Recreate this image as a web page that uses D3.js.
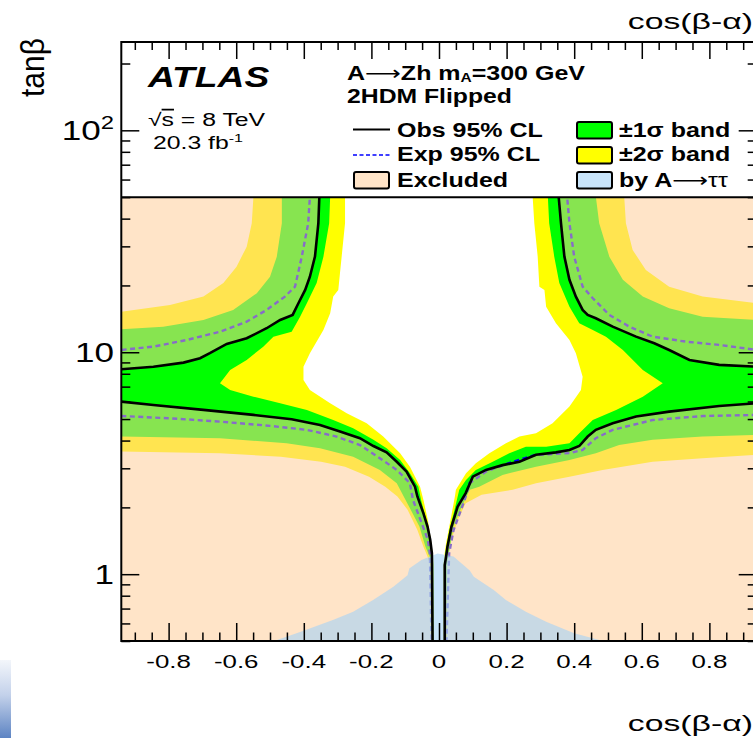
<!DOCTYPE html>
<html><head><meta charset="utf-8">
<script src="https://cdn.jsdelivr.net/npm/d3@7"></script>
<style>
body{margin:0;background:#fff;}
text{font-family:"Liberation Sans",Arial,Helvetica,sans-serif;fill:#000;}
</style></head><body>
<svg id="chart" width="753" height="743"></svg>
<script>
// ---------------- data (cos(beta-alpha), tan(beta)) ----------------
const xDomain = [-0.94, 0.94];
const yDomain = [0.5, 250];
const xMajor = [-0.8,-0.6,-0.4,-0.2,0,0.2,0.4,0.6,0.8];
const xMajorLabels = ["-0.8","-0.6","-0.4","-0.2","0","0.2","0.4","0.6","0.8"];
const xMinor = [-0.9,-0.85,-0.75,-0.7,-0.65,-0.55,-0.5,-0.45,-0.35,-0.3,-0.25,-0.15,-0.1,-0.05,0.05,0.1,0.15,0.25,0.3,0.35,0.45,0.5,0.55,0.65,0.7,0.75,0.85,0.9];
const yMajor = [1,10,100];
const yMajorLabels = [["1",""],["10",""],["10","2"]];
const yMinor = [0.5,0.6,0.7,0.8,0.9,2,3,4,5,6,7,8,9,20,30,40,50,60,70,80,90,200];
const legendTop = 50;

// observed 95% CL
const obsLeftUpper = [[-0.354,260],[-0.354,50.3],[-0.357,38.1],[-0.367,26.97],[-0.382,21.9],[-0.396,19.1],[-0.416,16.63],[-0.433,14.73],[-0.470,13.98],[-0.510,12.83],[-0.569,11.56],[-0.628,10.90],[-0.678,9.90],[-0.707,9.40],[-0.756,8.98],[-0.845,8.61],[-0.94,8.38]];
const obsLeftLower = [[-0.94,5.99],[-0.845,5.79],[-0.697,5.50],[-0.549,5.22],[-0.436,4.99],[-0.352,4.70],[-0.293,4.39],[-0.234,4.10],[-0.194,3.78],[-0.155,3.54],[-0.125,3.21],[-0.096,2.90],[-0.071,2.48],[-0.064,2.24],[-0.046,1.88],[-0.034,1.64],[-0.026,1.43],[-0.021,1.24],[-0.019,0.49]];
const obsRightUpper = [[0.354,260],[0.354,50.3],[0.361,38.1],[0.371,26.97],[0.386,21.2],[0.405,17.81],[0.425,15.51],[0.440,14.73],[0.464,14.23],[0.514,13.04],[0.583,11.76],[0.637,10.98],[0.681,10.24],[0.741,9.23],[0.829,8.77],[0.94,8.61]];
const obsRightLower = [[0.94,5.89],[0.829,5.73],[0.681,5.40],[0.583,5.13],[0.514,4.79],[0.464,4.47],[0.440,4.17],[0.415,3.78],[0.386,3.63],[0.346,3.54],[0.287,3.45],[0.238,3.21],[0.188,3.10],[0.139,2.95],[0.100,2.75],[0.079,2.32],[0.055,2.01],[0.037,1.64],[0.025,1.33],[0.021,1.20],[0.017,1.10],[0.017,0.49]];

// expected 95% CL
const expLeftUpper = [[-0.382,260],[-0.382,50.3],[-0.387,38.1],[-0.406,26.97],[-0.426,19.75],[-0.456,17.81],[-0.510,15.51],[-0.569,13.74],[-0.648,12.38],[-0.746,11.36],[-0.845,10.60],[-0.94,10.24]];
const expLeftLower = [[-0.94,5.16],[-0.796,5.04],[-0.648,4.87],[-0.500,4.66],[-0.391,4.47],[-0.303,4.17],[-0.234,3.82],[-0.175,3.33],[-0.125,2.95],[-0.086,2.57],[-0.077,2.16],[-0.033,1.43],[-0.027,1.24],[-0.022,0.49]];
const expRightUpper = [[0.379,260],[0.379,50.3],[0.386,38.1],[0.400,26.97],[0.425,19.75],[0.455,17.51],[0.504,14.73],[0.563,13.04],[0.632,11.76],[0.731,11.16],[0.829,10.79],[0.94,10.24]];
const expRightLower = [[0.94,5.22],[0.780,5.16],[0.632,4.95],[0.514,4.47],[0.464,4.10],[0.425,3.63],[0.386,3.51],[0.287,3.45],[0.218,3.21],[0.139,2.90],[0.090,2.57],[0.076,2.16],[0.043,1.58],[0.030,1.24],[0.022,0.49]];

// +-1 sigma band edges
const s1LeftOuterUpper = [[-0.465,260],[-0.465,50.3],[-0.465,38.1],[-0.480,26.97],[-0.500,21.9],[-0.539,18.45],[-0.609,15.51],[-0.697,13.98],[-0.816,13.04],[-0.94,12.69]];
const s1LeftOuterLower = [[-0.94,4.17],[-0.648,4.10],[-0.451,3.89],[-0.352,3.69],[-0.254,3.38],[-0.175,2.95],[-0.125,2.57],[-0.088,2.01],[-0.058,1.64],[-0.040,1.33],[-0.028,1.20],[-0.023,1.10],[-0.022,0.49]];
const s1LeftInner = [[-0.322,260],[-0.322,50.3],[-0.325,38.1],[-0.342,26.97],[-0.362,20.5],[-0.391,16.63],[-0.411,14.47],[-0.436,12.38],[-0.490,11.76],[-0.520,10.60],[-0.569,9.23],[-0.618,8.32],[-0.648,7.25],[-0.618,6.76],[-0.549,6.31],[-0.470,5.89],[-0.391,5.50],[-0.313,4.95],[-0.254,4.55],[-0.194,4.03],[-0.155,3.69],[-0.115,3.27],[-0.086,2.85],[-0.061,2.48],[-0.053,2.16],[-0.030,1.58],[-0.019,1.22],[-0.017,1.10],[-0.0165,0.49]];
const s1RightOuterUpper = [[0.464,260],[0.464,50.3],[0.474,38.1],[0.504,26.97],[0.544,21.2],[0.603,17.81],[0.681,15.79],[0.780,14.47],[0.94,13.98]];
const s1RightOuterLower = [[0.94,4.24],[0.780,4.17],[0.632,4.03],[0.533,3.82],[0.464,3.51],[0.386,3.27],[0.287,3.05],[0.188,2.80],[0.119,2.48],[0.091,2.40],[0.067,2.01],[0.043,1.64],[0.029,1.24],[0.023,1.10],[0.021,0.49]];
const s1RightInner = [[0.322,260],[0.322,50.3],[0.326,38.1],[0.341,26.97],[0.356,20.5],[0.386,16.05],[0.415,13.51],[0.455,12.60],[0.494,11.76],[0.544,10.24],[0.603,8.32],[0.662,7.25],[0.603,6.31],[0.524,5.50],[0.455,4.95],[0.415,4.32],[0.386,3.89],[0.317,3.75],[0.257,3.75],[0.208,3.51],[0.159,3.21],[0.109,2.95],[0.080,2.66],[0.060,2.40],[0.046,1.95],[0.031,1.58],[0.018,1.22],[0.0155,1.10],[0.0155,0.49]];

// +-2 sigma band edges
const s2LeftOuterUpper = [[-0.549,260],[-0.549,50.3],[-0.554,38.1],[-0.569,29.9],[-0.599,24.3],[-0.638,20.5],[-0.697,17.81],[-0.796,16.34],[-0.94,15.24]];
const s2LeftOuterLower = [[-0.94,3.57],[-0.648,3.51],[-0.468,3.38],[-0.349,3.21],[-0.278,3.05],[-0.207,2.75],[-0.159,2.48],[-0.123,2.24],[-0.093,1.95],[-0.064,1.58],[-0.046,1.33],[-0.034,1.20],[-0.026,1.10],[-0.024,0.49]];
const s2LeftInner = [[-0.278,260],[-0.278,50.3],[-0.278,38.1],[-0.293,22.7],[-0.298,19.1],[-0.313,17.81],[-0.322,14.99],[-0.342,12.60],[-0.382,9.90],[-0.401,8.61],[-0.401,7.50],[-0.382,6.76],[-0.322,5.89],[-0.273,5.31],[-0.214,4.79],[-0.165,4.17],[-0.115,3.51],[-0.086,3.05],[-0.056,2.48],[-0.046,2.16],[-0.033,1.75],[-0.024,1.43],[-0.018,1.22],[-0.0155,1.10],[-0.015,0.49]];
const s2RightOuterUpper = [[0.548,260],[0.548,50.3],[0.553,38.1],[0.573,28.9],[0.612,23.5],[0.681,19.75],[0.780,17.81],[0.94,16.63]];
const s2RightOuterLower = [[0.94,3.45],[0.780,3.33],[0.632,3.21],[0.484,2.95],[0.386,2.75],[0.287,2.57],[0.218,2.40],[0.126,2.28],[0.079,2.09],[0.055,1.75],[0.037,1.43],[0.025,1.20],[0.024,1.10],[0.024,0.49]];
const s2RightInner = [[0.277,260],[0.277,50.3],[0.282,38.1],[0.292,26.97],[0.297,19.75],[0.312,19.1],[0.317,16.05],[0.346,13.51],[0.386,11.36],[0.405,9.90],[0.425,7.76],[0.420,6.76],[0.386,5.69],[0.336,4.79],[0.287,4.32],[0.238,4.17],[0.198,3.89],[0.149,3.51],[0.109,3.16],[0.080,2.85],[0.050,2.40],[0.047,2.24],[0.034,1.75],[0.021,1.38],[0.016,1.22],[0.013,1.10],[0.013,0.49]];

// excluded by A->tautau
const tautauEdge = [[-0.504,0.49],[-0.409,0.551],[-0.314,0.622],[-0.254,0.678],[-0.195,0.765],[-0.135,0.878],[-0.093,0.99],[-0.088,1.06],[-0.052,1.16],[-0.004,1.24],[0.043,1.20],[0.091,1.04],[0.103,0.974],[0.162,0.849],[0.198,0.765],[0.257,0.678],[0.317,0.611],[0.400,0.542],[0.507,0.49]];

// ---------------- drawing ----------------
const svg = d3.select('#chart');
const x = d3.scaleLinear().domain(xDomain).range([121.3, 756.7]);
const y = d3.scaleLog().domain(yDomain).range([641, 42]);
const X0 = x(xDomain[0]), X1 = x(xDomain[1]), Y0 = y(yDomain[0]), Y1 = y(yDomain[1]);

const defs = svg.append('defs');
defs.append('clipPath').attr('id','clip').append('rect')
  .attr('x', X0).attr('y', Y1).attr('width', X1-X0).attr('height', Y0-Y1);
const grad = defs.append('linearGradient').attr('id','strip').attr('x1',0).attr('x2',0).attr('y1',0).attr('y2',1);
grad.append('stop').attr('offset','0%').attr('stop-color','#f3f6fb');
grad.append('stop').attr('offset','45%').attr('stop-color','#c3d1ea');
grad.append('stop').attr('offset','100%').attr('stop-color','#5d84c3');

// decorative strip at bottom-left
svg.append('rect').attr('x',0).attr('y',660).attr('width',11).attr('height',78).attr('fill','url(#strip)');

const plot = svg.append('g').attr('clip-path','url(#clip)');
const line = d3.line().x(d => x(d[0])).y(d => y(d[1]));
const area = pts => line(pts) + 'Z';
const rev = a => a.slice().reverse();

// bands
const yellow = '#ffff00', green = '#00ff00';
plot.append('path').attr('d', area([...s2LeftOuterUpper, ...s2LeftOuterLower, ...rev(s2LeftInner)])).attr('fill', yellow);
plot.append('path').attr('d', area([...s2RightOuterUpper, ...s2RightOuterLower, ...rev(s2RightInner)])).attr('fill', yellow);
plot.append('path').attr('d', area([...s1LeftOuterUpper, ...s1LeftOuterLower, ...rev(s1LeftInner)])).attr('fill', green);
plot.append('path').attr('d', area([...s1RightOuterUpper, ...s1RightOuterLower, ...rev(s1RightInner)])).attr('fill', green);

// expected
[expLeftUpper, expLeftLower, expRightUpper, expRightLower].forEach(c => {
  plot.append('path').attr('d', line(c)).attr('fill','none').attr('stroke','#0000ff')
    .attr('stroke-width',2.4).attr('stroke-dasharray','5,3.5');
});

// observed exclusion (semi-transparent)
const peach = 'rgb(255,204,151)';
const exclGroup = plot.append('g').attr('fill', peach).attr('fill-opacity', 0.53);
exclGroup.append('path').attr('d', area([...obsLeftUpper, [-1.2, 8.38], [-1.2, 300], [-0.354, 300]]));
exclGroup.append('path').attr('d', area([...obsLeftLower, [-0.019, 0.3], [-1.2, 0.3], [-1.2, 5.99]]));
exclGroup.append('path').attr('d', area([...obsRightUpper, [1.2, 8.61], [1.2, 300], [0.354, 300]]));
exclGroup.append('path').attr('d', area([...obsRightLower, [0.017, 0.3], [1.2, 0.3], [1.2, 5.89]]));

// A -> tautau
plot.append('path').attr('d', area([...tautauEdge, [0.507, 0.3], [-0.504, 0.3]]))
  .attr('fill', 'rgb(163,210,247)').attr('fill-opacity', 0.6);

// observed lines
[obsLeftUpper, obsLeftLower, obsRightUpper, obsRightLower].forEach(c => {
  plot.append('path').attr('d', line(c)).attr('fill','none').attr('stroke','#000').attr('stroke-width',2.6);
});

// legend box (white, covers top part)
svg.append('rect').attr('x', X0).attr('y', Y1).attr('width', X1-X0).attr('height', y(legendTop)-Y1).attr('fill','#fff');
svg.append('line').attr('x1', X0).attr('x2', X1).attr('y1', y(legendTop)).attr('y2', y(legendTop)).attr('stroke','#000').attr('stroke-width',2);

// frame
svg.append('rect').attr('x', X0).attr('y', Y1).attr('width', X1-X0).attr('height', Y0-Y1)
  .attr('fill','none').attr('stroke','#000').attr('stroke-width',2);

// axes ticks
function ax(gen, tr) {
  const g = svg.append('g').attr('transform', tr).call(gen);
  g.select('.domain').remove();
  g.selectAll('.tick line').attr('stroke','#000').attr('stroke-width',1.5);
  g.selectAll('.tick text').remove();
  return g;
}
ax(d3.axisBottom(x).tickValues(xMajor).tickSize(-18).tickSizeOuter(0), `translate(0,${Y0})`);
ax(d3.axisBottom(x).tickValues(xMinor).tickSize(-8.5).tickSizeOuter(0), `translate(0,${Y0})`);
ax(d3.axisTop(x).tickValues(xMajor).tickSize(-17).tickSizeOuter(0), `translate(0,${Y1})`);
ax(d3.axisTop(x).tickValues(xMinor).tickSize(-8).tickSizeOuter(0), `translate(0,${Y1})`);
ax(d3.axisLeft(y).tickValues(yMajor).tickSize(-18).tickSizeOuter(0), `translate(${X0},0)`);
ax(d3.axisLeft(y).tickValues(yMinor).tickSize(-9).tickSizeOuter(0), `translate(${X0},0)`);
ax(d3.axisRight(y).tickValues(yMajor).tickSize(-18).tickSizeOuter(0), `translate(${X1},0)`);
ax(d3.axisRight(y).tickValues(yMinor).tickSize(-9).tickSizeOuter(0), `translate(${X1},0)`);

// text helper
function rich(px, py, segs, o) {
  const t = svg.append('text')
    .attr('transform', `translate(${px},${py}) scale(${o.sx||1},1)`)
    .attr('font-size', o.size)
    .attr('font-weight', o.weight||'normal')
    .attr('font-style', o.style||'normal')
    .attr('text-anchor', o.anchor||'start');
  let shift = 0;
  segs.forEach(s => {
    const sp = t.append('tspan').text(s.t);
    const target = s.sub ? (s.subShift||o.size*0.3) : (s.sup ? -(s.supShift||o.size*0.4) : 0);
    if (target !== shift) { sp.attr('dy', target - shift); shift = target; }
    if (s.sub || s.sup) sp.attr('font-size', o.size*(s.scale||0.7));
    if (s.over) sp.style('text-decoration','overline');
    if (s.font) sp.style('font-family', s.font);
    if (s.w) sp.attr('font-weight', s.w);
  });
  return t;
}

// tick labels
xMajor.forEach((v,i) => rich(x(v), 668, [{t:xMajorLabels[i]}], {size:18.5, sx:1.4, anchor:'middle'}));
yMajor.forEach((v,i) => {
  const lab = yMajorLabels[i];
  const segs = [{t:lab[0]}];
  if (lab[1]) segs.push({t:lab[1], sup:true, supShift:11, scale:0.68});
  rich(114, y(v)+10, segs, {size:27, sx:1.3, anchor:'end'});
});

// axis titles
rich(753, 29, [{t:'cos(β-α)'}], {size:22.5, sx:1.5, anchor:'end'});
rich(753, 731, [{t:'cos(β-α)'}], {size:22.5, sx:1.5, anchor:'end'});
svg.append('text').attr('transform','translate(44,97) rotate(-90) scale(1,1.12)')
  .attr('font-size',30).text('tanβ');

// ATLAS labels
rich(148, 87, [{t:'ATLAS'}], {size:30, weight:'bold', style:'italic', sx:1.24});
rich(148, 126, [{t:'√'}, {t:'s', over:true}, {t:' = 8 TeV'}], {size:17.7, sx:1.4});
rich(153, 148.5, [{t:'20.3 fb'}, {t:'-1', sup:true, supShift:7, scale:0.65}], {size:17.7, sx:1.4});

// legend header
const arrowFont = '"DejaVu Sans", sans-serif';
rich(347, 80, [{t:'A'}, {t:'⟶', font:arrowFont, w:'normal'}, {t:'Zh m'}, {t:'A', sub:true, subShift:2, scale:0.62}, {t:'=300 GeV'}], {size:20, weight:'bold', sx:1.25});
rich(347, 103, [{t:'2HDM Flipped'}], {size:19.5, weight:'bold', sx:1.27});

// legend entries
svg.append('line').attr('x1',353).attr('x2',390).attr('y1',129.5).attr('y2',129.5).attr('stroke','#000').attr('stroke-width',1.8);
svg.append('line').attr('x1',353).attr('x2',390).attr('y1',155).attr('y2',155).attr('stroke','#0000ff').attr('stroke-width',1.6).attr('stroke-dasharray','4,2.5');
function swatch(x0, y0, col) {
  svg.append('rect').attr('x',x0).attr('y',y0).attr('width',35).attr('height',16.5).attr('rx',2)
    .attr('fill',col).attr('stroke','#000').attr('stroke-width',2);
}
swatch(354, 172, 'rgb(255,228,200)');
swatch(577, 122, green);
swatch(577, 147, yellow);
swatch(577, 172, 'rgb(200,228,250)');
rich(397, 137, [{t:'Obs 95% CL'}], {size:20, weight:'bold', sx:1.25});
rich(397, 161, [{t:'Exp 95% CL'}], {size:20, weight:'bold', sx:1.25});
rich(397, 187, [{t:'Excluded'}], {size:20, weight:'bold', sx:1.25});
rich(619, 137, [{t:'±1σ band'}], {size:20, weight:'bold', sx:1.25});
rich(619, 161, [{t:'±2σ band'}], {size:20, weight:'bold', sx:1.25});
rich(619, 187, [{t:'by A'}, {t:'⟶', font:arrowFont, w:'normal'}, {t:'ττ', w:'normal'}], {size:20, weight:'bold', sx:1.25});
</script>
</body></html>
